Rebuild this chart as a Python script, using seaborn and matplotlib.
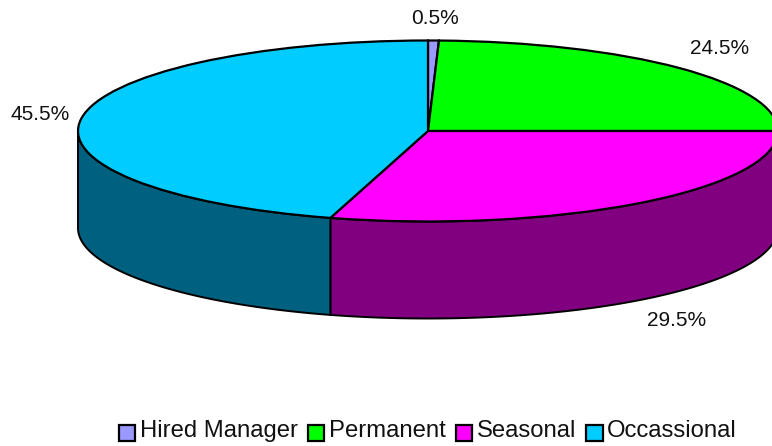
import numpy as np
import matplotlib
matplotlib.use("Agg")
import matplotlib.pyplot as plt
import seaborn as sns

# Valeurs
categories = ["Hired Manager", "Permanent", "Seasonal", "Occassional"]
shares = [0.5, 24.5, 29.5, 45.5]
pct_labels = ["0.5%", "24.5%", "29.5%", "45.5%"]
top_colors = ["#9999FF", "#00FF00", "#FF00FF", "#00CCFF"]
side_colors = ["#4C4C80", "#008000", "#800080", "#006080"]

W, H = 772, 446
CX, CY, RX, RY, DEPTH = 428, 131, 350, 90.5, 97

sns.set_theme(style="white")
plt.rcParams["font.family"] = ["Liberation Sans"]


def to_data(px, py):
    return (px - CX) / RX, (CY - py) / RY


fig = plt.figure(figsize=(W / 100, H / 100), dpi=100)
ax = fig.add_axes([0, 0, 1, 1])

# Épaisseur du camembert, partie visible seulement
drop = DEPTH / RY
edges = np.cumsum([0] + shares) / sum(shares) * 2 * np.pi
for i, col in enumerate(sns.color_palette(side_colors)):
    lo, hi = max(edges[i], np.pi / 2), min(edges[i + 1], 3 * np.pi / 2)
    if hi <= lo:
        continue
    t = np.linspace(lo, hi, 120)
    xs = np.sin(t)
    ys = np.cos(t)
    ax.fill(np.r_[xs, xs[::-1]], np.r_[ys, ys[::-1] - drop],
            facecolor=col, edgecolor="black", linewidth=1.4, zorder=1)

# Face supérieure
wedges, _ = ax.pie(shares, colors=top_colors, startangle=90, counterclock=False,
                   wedgeprops={"edgecolor": "black", "linewidth": 1.6, "zorder": 2})

ax.set_aspect("auto")
x0, y0 = to_data(0, H)
x1, y1 = to_data(W, 0)
ax.set_xlim(x0, x1)
ax.set_ylim(y0, y1)
ax.axis("off")

# Étiquettes de pourcentage
label_pos = [(435, 18), (720, 48), (677, 320), (40, 114)]
for lab, (px, py) in zip(pct_labels, label_pos):
    x, y = to_data(px, py)
    ax.text(x, y, lab, fontsize=15, color="#111111", ha="center", va="center", zorder=3)

leg = ax.legend(wedges, categories, ncol=4, loc="center", bbox_to_anchor=(428 / W, 1 - 431 / H),
                frameon=False, fontsize=17.2, handlelength=0.68, handleheight=0.68,
                handletextpad=0.2, columnspacing=0.42, labelcolor="#111111",
                borderpad=0, borderaxespad=0)
# Les carrés de la légende sont plus bas que le texte
for h in leg.legend_handles:
    h.set_y(h.get_y() - 3)

fig.savefig("out.png", dpi=100)
plt.close(fig)
